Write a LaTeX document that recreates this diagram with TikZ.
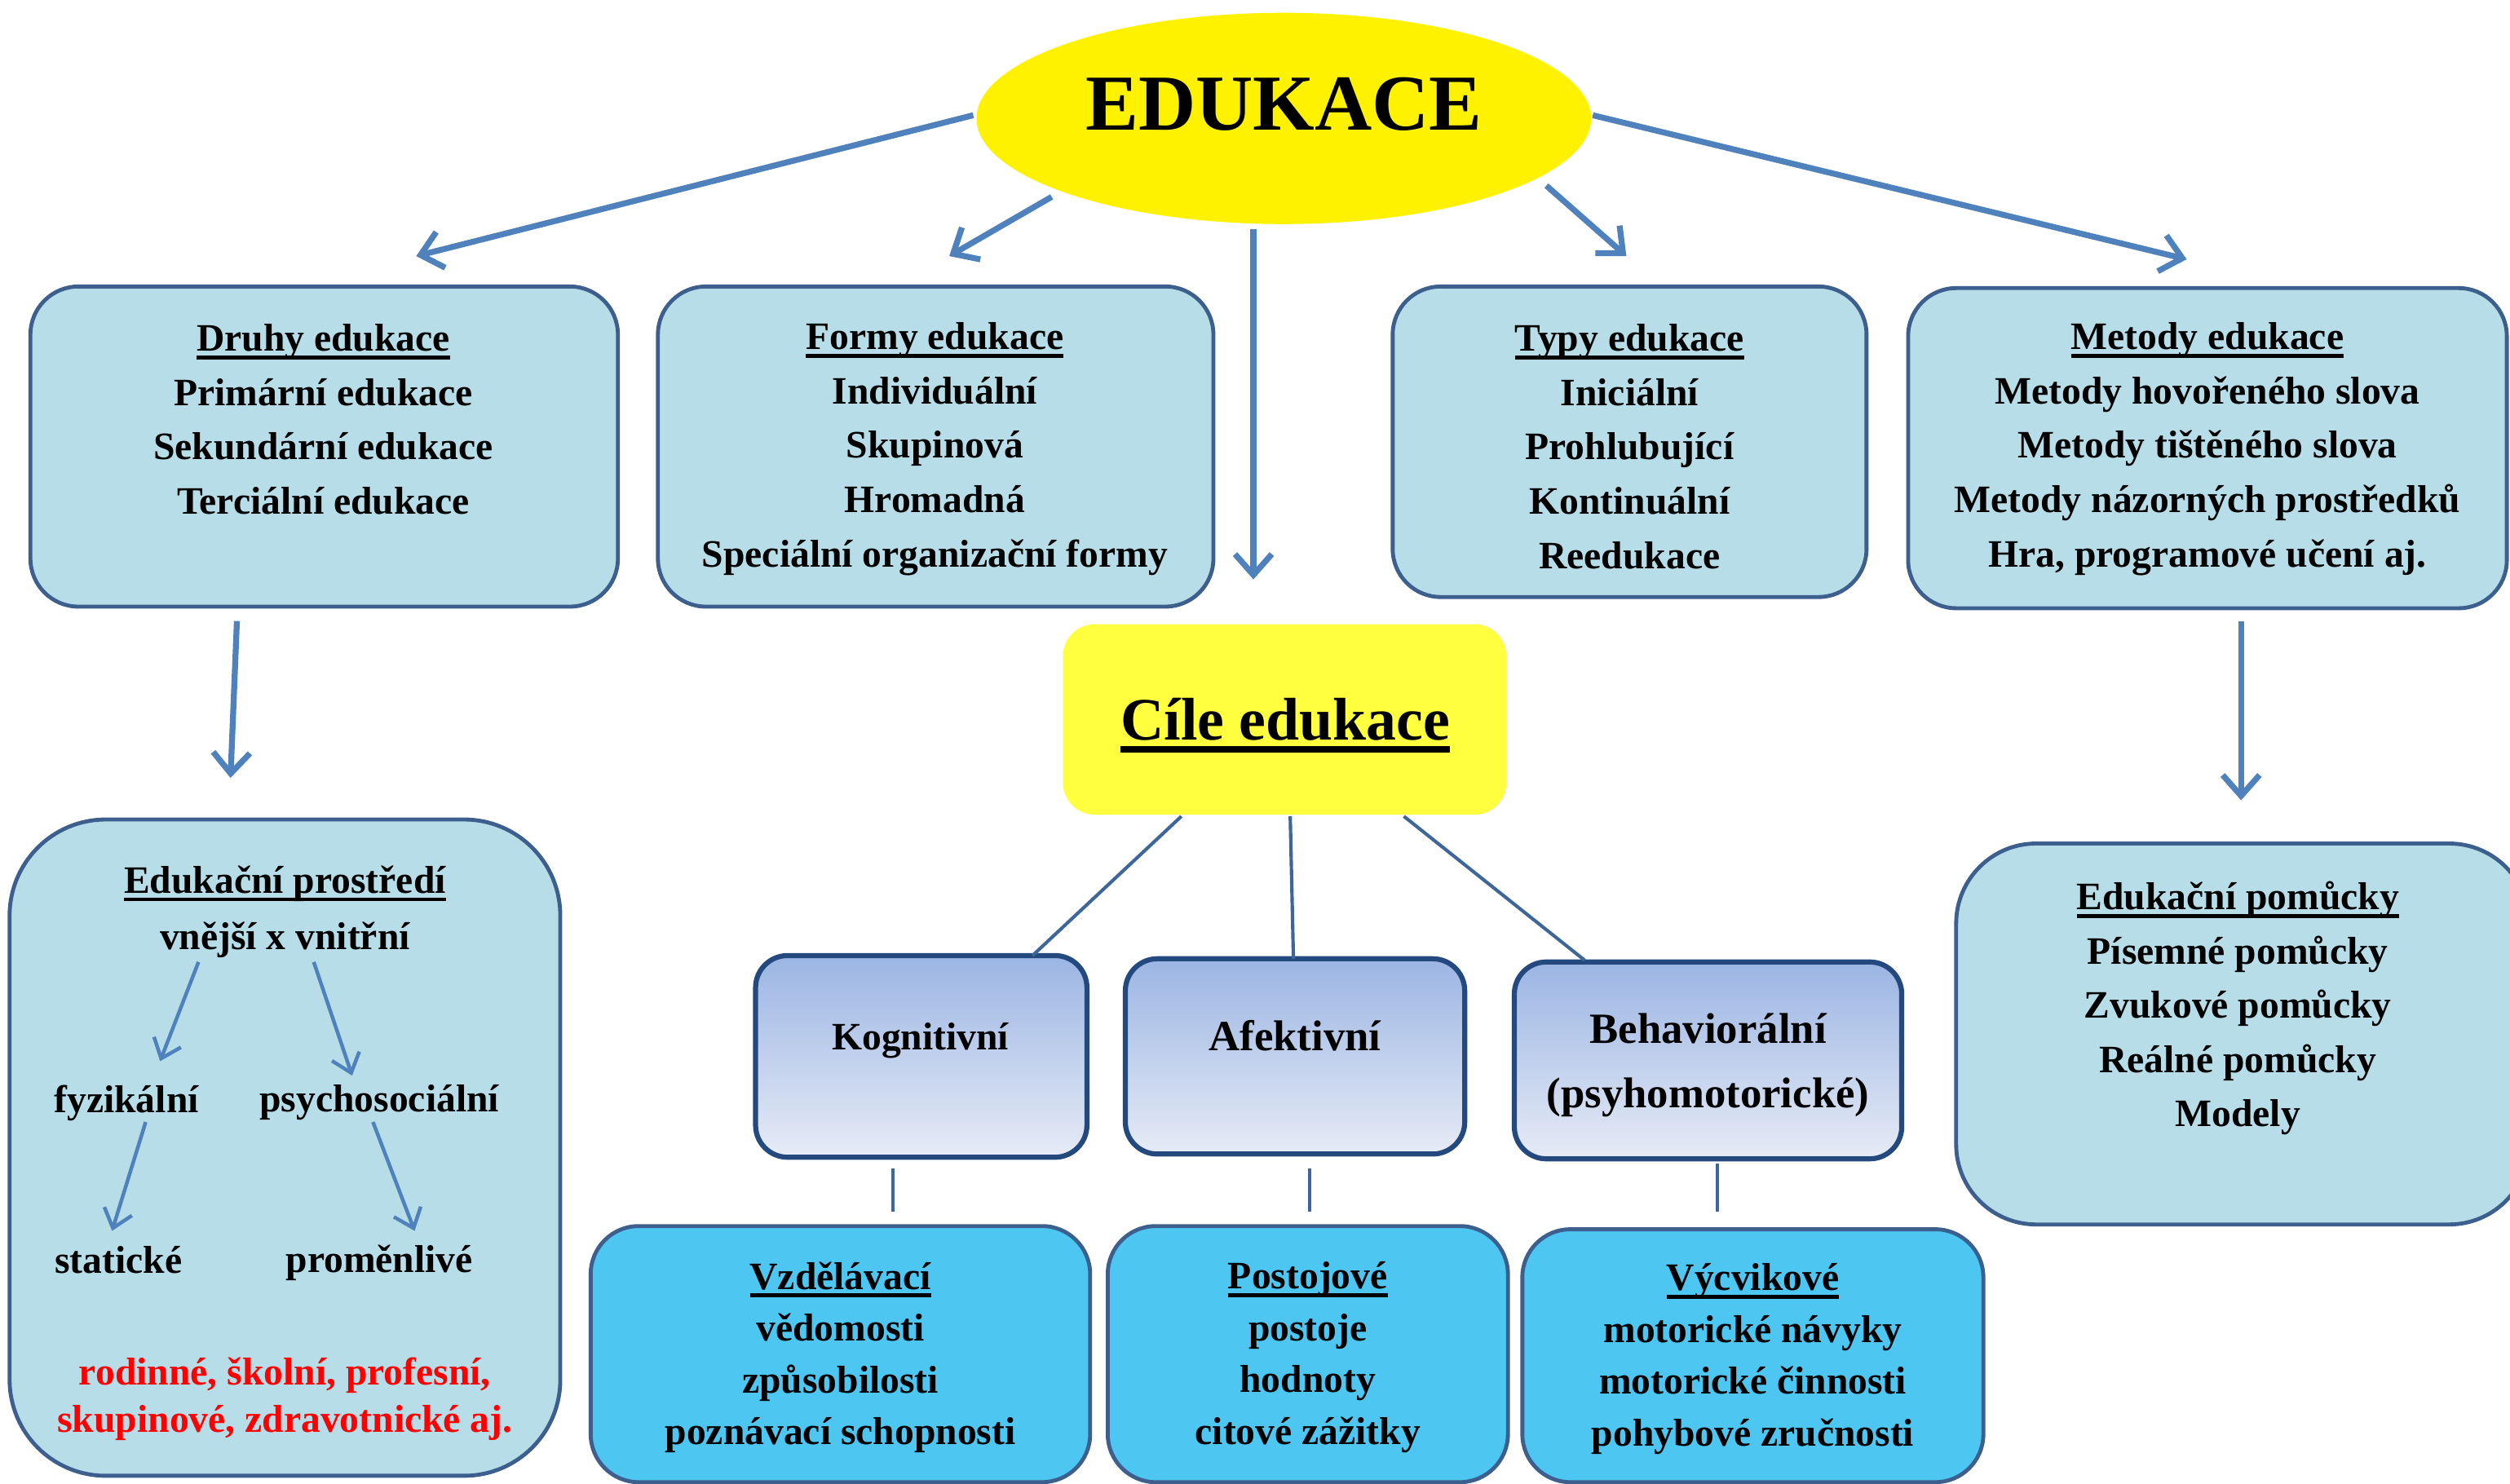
\documentclass[tikz,border=0pt]{standalone}
\usepackage{fontspec}
\setmainfont{Liberation Serif}
\usetikzlibrary{shapes.geometric,arrows.meta}
\definecolor{boxblue}{HTML}{B7DEE8}
\definecolor{skyblue}{HTML}{4EC6F2}
\definecolor{edgeblue}{HTML}{3C5F8E}
\definecolor{navyedge}{HTML}{24497F}
\definecolor{arrowblue}{HTML}{4F81BD}
\definecolor{goalyellow}{HTML}{FFFF40}
\definecolor{gradtop}{HTML}{9BB5E3}
\definecolor{gradbot}{HTML}{E6EBF6}
\definecolor{linkblue}{HTML}{3E6699}
\newcommand{\uln}[1]{\leavevmode\setbox0=\hbox{#1}\rlap{\vrule width\wd0 height-0.11em depth0.21em}\box0}

\begin{document}
\begin{tikzpicture}[x=0.2mm,y=-0.2mm,
		every node/.style={inner sep=0pt},
		mainbox/.style={draw=edgeblue,line width=1.4pt,fill=boxblue,rounded corners=6mm},
		goalbox/.style={draw=edgeblue,line width=1.4pt,fill=skyblue,rounded corners=6mm},
		domainbox/.style={draw=navyedge,line width=1.8pt,top color=gradtop,bottom color=gradbot,rounded corners=4mm},
		txt/.style={align=center,font=\fontsize{13.8}{19.3}\selectfont\bfseries},
		lowtxt/.style={align=center,font=\fontsize{13.8}{18.4}\selectfont\bfseries},
		bigtxt/.style={align=center,font=\fontsize{15.3}{22.7}\selectfont\bfseries},
		arr/.style={arrowblue,line width=2.1pt,-{Straight Barb[length=2.6mm,width=4.6mm]}},
		smallarr/.style={arrowblue,line width=1.3pt,-{Straight Barb[length=2.2mm,width=3.6mm]}},
		link/.style={linkblue,line width=1.2pt}]
		\useasboundingbox (0,0) rectangle (1568,927);
		\node[ellipse,fill=yellow,minimum width=76.8mm,minimum height=26.4mm] (edu) at (802,74) {};
		\node[font=\fontsize{28.2}{30}\selectfont\bfseries] (eduT) at (802,65) {EDUKACE};
		\node[mainbox,minimum width=73.4mm,minimum height=40mm] (druhy) at (202.5,279) {};
		\node[mainbox,minimum width=69.4mm,minimum height=40mm] (formy) at (584.5,279) {};
		\node[mainbox,minimum width=59.2mm,minimum height=38.8mm] (typy) at (1018,276) {};
		\node[mainbox,minimum width=74.8mm,minimum height=40mm] (metody) at (1379,280) {};
		\node[txt] (druhyT) at (202,262) {\uln{Druhy edukace}\\Primární edukace\\Sekundární edukace\\Terciální edukace};
		\node[txt] (formyT) at (584,280.5) {\uln{Formy edukace}\\Individuální\\Skupinová\\Hromadná\\Speciální organizační formy};
		\node[txt] (typyT) at (1018,279) {\uln{Typy edukace}\\Iniciální\\Prohlubující\\Kontinuální\\Reedukace};
		\node[txt] (metodyT) at (1379,280.5) {\uln{Metody edukace}\\Metody hovořeného slova\\Metody tištěného slova\\Metody názorných prostředků\\Hra, programové učení aj.};
		\node[fill=goalyellow,rounded corners=4mm,minimum width=55.4mm,minimum height=23.8mm] (cile) at (802.5,449.5) {};
		\node[font=\fontsize{21.4}{24}\selectfont\bfseries] (cileT) at (803,453) {\uln{Cíle edukace}};
		\node[domainbox,minimum width=41.4mm,minimum height=25.2mm] (kog) at (575.5,660) {};
		\node[domainbox,minimum width=42.4mm,minimum height=24.4mm] (afek) at (809,660) {};
		\node[domainbox,minimum width=48.4mm,minimum height=24.6mm] (beh) at (1067,662.5) {};
		\node[txt] (kogT) at (575,650) {Kognitivní};
		\node[bigtxt] (afekT) at (809,647) {Afektivní};
		\node[bigtxt] (behT) at (1067,665.5) {Behaviorální\\(psyhomotorické)};
		\node[goalbox,minimum width=62.4mm,minimum height=32mm] (vzd) at (525,846) {};
		\node[goalbox,minimum width=50mm,minimum height=32mm] (post) at (817,846) {};
		\node[goalbox,minimum width=57.6mm,minimum height=31.6mm] (vyc) at (1095,847) {};
		\node[lowtxt] (vzdT) at (525,848) {\uln{Vzdělávací}\\vědomosti\\způsobilosti\\poznávací schopnosti};
		\node[lowtxt] (postT) at (817,848) {\uln{Postojové}\\postoje\\hodnoty\\citové zážitky};
		\node[lowtxt] (vycT) at (1095,849) {\uln{Výcvikové}\\motorické návyky\\motorické činnosti\\pohybové zručnosti};
		\node[mainbox,rounded corners=12mm,minimum width=68.8mm,minimum height=82mm] (prostr) at (178,717) {};
		\node[txt] (prostrT) at (178,552) {\uln{Edukační prostředí}};
		\node[txt] (vn) at (178,587) {vnější x vnitřní};
		\node[txt] (fyz) at (79,689) {fyzikální};
		\node[txt] (psy) at (237,689) {psychosociální};
		\node[txt] (stat) at (74,787) {statické};
		\node[txt] (prom) at (237,789) {proměnlivé};
		\node[txt,text=red,font=\fontsize{13.8}{17}\selectfont\bfseries] (druhT) at (178,874) {rodinné, školní, profesní,\\skupinové, zdravotnické aj.};
		\node[mainbox,rounded corners=10mm,minimum width=71.6mm,minimum height=47.6mm] (pomucky) at (1401,646) {};
		\node[txt] (pomuckyT) at (1398,630) {\uln{Edukační pomůcky}\\Písemné pomůcky\\Zvukové pomůcky\\Reálné pomůcky\\Modely};
		\draw[arr] ([shift={(-194,-2)}]edu.center) -- ([shift={(57.5,-119)}]druhy.center);
		\draw[arr] ([shift={(-145,49)}]edu.center) -- ([shift={(8.5,-119)}]formy.center);
		\draw[arr] ([shift={(-19,69)}]edu.center) -- ([shift={(-19.5,-87.5)}]cile.center);
		\draw[arr] ([shift={(164,42)}]edu.center) -- ([shift={(-2,-116)}]typy.center);
		\draw[arr] ([shift={(193,-2)}]edu.center) -- ([shift={(-13,-118)}]metody.center);
		\draw[arr] ([shift={(-54.5,109)}]druhy.center) -- ([shift={(-34,-231)}]prostr.center);
		\draw[arr] ([shift={(21,108)}]metody.center) -- ([shift={(-1,-146)}]pomucky.center);
		\draw[link] ([shift={(-64.5,60.5)}]cile.center) -- ([shift={(69.5,-63)}]kog.center);
		\draw[link] ([shift={(3.5,60.5)}]cile.center) -- ([shift={(-1,-61)}]afek.center);
		\draw[link] ([shift={(74.5,60.5)}]cile.center) -- ([shift={(-77,-62.5)}]beh.center);
		\draw[link] ([shift={(-17.5,70)}]kog.center) -- ([shift={(33,-89)}]vzd.center);
		\draw[link] ([shift={(9,70)}]afek.center) -- ([shift={(1,-89)}]post.center);
		\draw[link] ([shift={(6,64.5)}]beh.center) -- ([shift={(-22,-90)}]vyc.center);
		\draw[smallarr] ([shift={(-54,14)}]vn.center) -- ([shift={(21,-26)}]fyz.center);
		\draw[smallarr] ([shift={(18,14)}]vn.center) -- ([shift={(-17,-17)}]psy.center);
		\draw[smallarr] ([shift={(12,12)}]fyz.center) -- ([shift={(-4,-18)}]stat.center);
		\draw[smallarr] ([shift={(-4,12)}]psy.center) -- ([shift={(22,-20)}]prom.center);
\end{tikzpicture}
\end{document}
